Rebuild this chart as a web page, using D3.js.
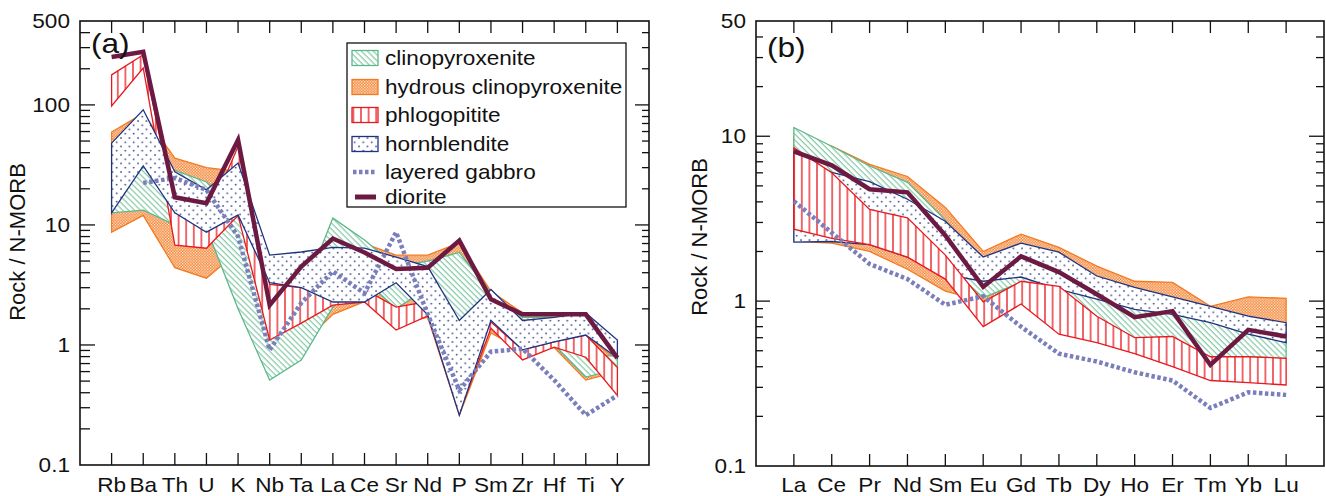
<!DOCTYPE html>
<html>
<head>
<meta charset="utf-8">
<script src="https://cdn.jsdelivr.net/npm/d3@7"></script>
<style>
  body { margin: 0; background: #fff; }
  text { font-family: "Liberation Sans", Arial, Helvetica, sans-serif; fill: #111; }
</style>
</head>
<body>
<svg id="chart" width="1326" height="496"></svg>
<script>
// ---- data (N-MORB normalised) ----
const elementsA = ['Rb','Ba','Th','U','K','Nb','Ta','La','Ce','Sr','Nd','P','Sm','Zr','Hf','Ti','Y'];
const elementsB = ['La','Ce','Pr','Nd','Sm','Eu','Gd','Tb','Dy','Ho','Er','Tm','Yb','Lu'];

const yTicksA = [0.1, 1, 10, 100, 500];
const yTicksB = [0.1, 1, 10, 50];

const legendNames = ['clinopyroxenite', 'hydrous clinopyroxenite', 'phlogopitite', 'hornblendite', 'layered gabbro', 'diorite'];

// panel (a) envelopes: upper / lower bounds
const cpxHiA = [18.5, 30, 28.5, 22.8, 12, 2.0, 2.5, 11.4, 7.5, 4.5, 5.0, 5.9, 2.7, 1.7, 1.7, 0.85, 0.8];
const cpxLoA = [12.6, 13.3, 10, 9.4, 2.0, 0.51, 0.75, 2.07, 3.5, 2.0, 3.0, 1.6, 1.5, 0.9, 1.0, 0.54, 0.63];
const hydHiA = [59.5, 85, 36, 30, 28, 3.0, 4.5, 8.0, 7.0, 5.6, 5.6, 7.1, 2.8, 1.85, 1.8, 1.2, 0.75];
const hydLoA = [8.7, 12, 4.4, 3.6, 6, 1.1, 1.0, 1.8, 2.3, 1.5, 1.7, 0.26, 1.26, 0.9, 0.95, 0.51, 0.6];
const phlHiA = [178, 262, 12.6, 11, 45, 3.2, 3.0, 2.9, 2.9, 2.07, 2.3, 0.6, 1.55, 0.91, 1.06, 1.21, 0.65];
const phlLoA = [98, 203, 6.8, 6.4, 12, 1.1, 1.52, 2.15, 2.28, 1.33, 1.75, 0.27, 1.38, 0.75, 0.96, 0.79, 0.38];
const hblHiA = [48, 91, 27.7, 19.6, 32.8, 5.6, 5.95, 6.5, 6.4, 5.4, 4.5, 1.6, 2.9, 1.6, 1.7, 1.85, 1.1];
const hblLoA = [12.6, 31, 12.6, 8.7, 12.1, 3.3, 3.0, 2.28, 2.28, 3.3, 1.78, 0.26, 1.6, 0.91, 1.06, 1.21, 0.78];
const gabbroA = [null, 22.4, 24.6, 19.6, 8, 0.91, 2.24, 4.1, 2.7, 8.7, 1.8, 0.42, 0.88, 0.93, 0.51, 0.26, 0.38];
const dioriteA = [251, 277, 17, 15.2, 51, 2.15, 4.5, 7.7, 5.9, 4.3, 4.4, 7.4, 2.4, 1.8, 1.8, 1.8, 0.78];

// panel (b) envelopes
const cpxHiB = [11.3, 8.7, 6.6, 5.25, 3.1, 1.5, 1.45, 1.3, 1.1, 0.95, 0.88, 0.75, 0.63, 0.57];
const cpxLoB = [3.14, 3.0, 2.7, 2.3, 1.7, 1.05, 1.3, 1.2, 0.8, 0.6, 0.6, 0.46, 0.46, 0.45];
const hydHiB = [10, 8.7, 6.75, 5.7, 3.7, 2.0, 2.55, 2.12, 1.63, 1.32, 1.3, 0.93, 1.06, 1.04];
const hydLoB = [2.3, 2.25, 2.0, 1.56, 1.15, 1.0, 1.2, 1.1, 0.9, 0.8, 0.75, 0.7, 0.7, 0.6];
const phlHiB = [8.5, 6.0, 3.6, 3.2, 1.9, 0.99, 1.32, 1.23, 0.81, 0.6, 0.61, 0.46, 0.46, 0.45];
const phlLoB = [2.73, 2.4, 2.2, 1.85, 1.36, 0.70, 0.96, 0.63, 0.56, 0.48, 0.40, 0.33, 0.32, 0.31];
const hblHiB = [8.0, 6.04, 5.3, 4.15, 3.05, 1.85, 2.25, 1.98, 1.42, 1.21, 1.06, 0.93, 0.81, 0.74];
const hblLoB = [2.28, 2.3, 2.2, 1.85, 1.45, 1.32, 1.4, 1.18, 1.03, 0.89, 0.83, 0.74, 0.63, 0.56];
const gabbroB = [4.04, 2.6, 1.68, 1.36, 0.95, 1.07, 0.70, 0.48, 0.43, 0.37, 0.33, 0.225, 0.28, 0.27];
const dioriteB = [8.1, 6.66, 4.77, 4.57, 2.5, 1.22, 1.87, 1.5, 1.1, 0.8, 0.87, 0.41, 0.67, 0.61];

// ---- styles ----
const col = {
  cpx: '#5cb88a', hyd: '#f37a22', phl: '#e8191e', hbl: '#1f3380',
  gabbro: '#7a7fbb', diorite: '#6d1a42'
};

const svg = d3.select('#chart');
const defs = svg.append('defs');

// green diagonal hatch
const pCpx = defs.append('pattern').attr('id', 'pCpx')
  .attr('patternUnits', 'userSpaceOnUse').attr('width', 4.2).attr('height', 4.2)
  .attr('patternTransform', 'rotate(-45)');
pCpx.append('rect').attr('width', 4.2).attr('height', 4.2).attr('fill', '#fff');
pCpx.append('line').attr('x1', 1).attr('x2', 1).attr('y1', 0).attr('y2', 4.2)
  .attr('stroke', col.cpx).attr('stroke-width', 0.9);

// orange fine checker
const pHyd = defs.append('pattern').attr('id', 'pHyd')
  .attr('patternUnits', 'userSpaceOnUse').attr('width', 2.8).attr('height', 2.8);
pHyd.append('rect').attr('width', 2.8).attr('height', 2.8).attr('fill', col.hyd);
pHyd.append('rect').attr('x', 0).attr('y', 0).attr('width', 1.25).attr('height', 1.25).attr('fill', '#fff');
pHyd.append('rect').attr('x', 1.4).attr('y', 1.4).attr('width', 1.25).attr('height', 1.25).attr('fill', '#fff');

// red vertical lines
const pPhl = defs.append('pattern').attr('id', 'pPhl')
  .attr('patternUnits', 'userSpaceOnUse').attr('width', 7.6).attr('height', 10);
pPhl.append('rect').attr('width', 7.6).attr('height', 10).attr('fill', '#fff');
pPhl.append('line').attr('x1', 3.8).attr('x2', 3.8).attr('y1', 0).attr('y2', 10)
  .attr('stroke', col.phl).attr('stroke-width', 1.3);

// blue dots
const pHbl = defs.append('pattern').attr('id', 'pHbl')
  .attr('patternUnits', 'userSpaceOnUse').attr('width', 8.5).attr('height', 8.5);
pHbl.append('rect').attr('width', 8.5).attr('height', 8.5).attr('fill', '#fff');
pHbl.append('circle').attr('cx', 2).attr('cy', 2).attr('r', 0.9).attr('fill', col.hbl);
pHbl.append('circle').attr('cx', 6.25).attr('cy', 6.25).attr('r', 0.9).attr('fill', col.hbl);

const fieldStyle = {
  cpx: { fill: 'url(#pCpx)', stroke: col.cpx },
  hyd: { fill: 'url(#pHyd)', stroke: col.hyd },
  phl: { fill: 'url(#pPhl)', stroke: col.phl },
  hbl: { fill: 'url(#pHbl)', stroke: col.hbl }
};

const panels = [
  {
    label: '(a)', x0: 80, x1: 649, y0: 21, y1: 465,
    elements: elementsA, domain: [0.1, 500], yTicks: yTicksA,
    labelX: 91, labelY: 53, titleX: 25, titleY: 242,
    fields: [
      ['hyd', hydHiA, hydLoA], ['cpx', cpxHiA, cpxLoA],
      ['phl', phlHiA, phlLoA], ['hbl', hblHiA, hblLoA]
    ],
    gabbro: gabbroA, diorite: dioriteA,
    leftMajor: 15, leftMinor: 10, rightMajor: 14, rightMinor: 7
  },
  {
    label: '(b)', x0: 756, x1: 1324, y0: 21, y1: 466,
    elements: elementsB, domain: [0.1, 50], yTicks: yTicksB,
    labelX: 767, labelY: 57, titleX: 707, titleY: 237,
    fields: [
      ['hyd', hydHiB, hydLoB], ['cpx', cpxHiB, cpxLoB],
      ['hbl', hblHiB, hblLoB], ['phl', phlHiB, phlLoB]
    ],
    gabbro: gabbroB, diorite: dioriteB,
    leftMajor: 14, leftMinor: 7, rightMajor: 15, rightMinor: 8
  }
];

const SX = 1.13; // the figure's lettering is a little wide
function wideText(g, x, y, str, size, anchor) {
  return g.append('text')
    .attr('transform', `translate(${x},${y}) scale(${SX},1)`)
    .attr('text-anchor', anchor || 'start')
    .attr('font-size', size)
    .text(str);
}

panels.forEach(function (p) {
  const g = svg.append('g');
  const x = d3.scalePoint().domain(p.elements).range([p.x0, p.x1]).padding(1);
  const y = d3.scaleLog().domain(p.domain).range([p.y1, p.y0]);

  // envelopes
  p.fields.forEach(function (f) {
    const key = f[0], hi = f[1], lo = f[2];
    const rows = p.elements.map((e, i) => ({ e: e, hi: hi[i], lo: lo[i] }));
    const area = d3.area()
      .x(d => x(d.e))
      .y0(d => y(d.lo))
      .y1(d => y(d.hi));
    g.append('path')
      .attr('d', area(rows))
      .attr('fill', fieldStyle[key].fill)
      .attr('stroke', fieldStyle[key].stroke)
      .attr('stroke-width', 1.3)
      .attr('stroke-linejoin', 'miter');
  });

  const line = d3.line()
    .defined(d => d.v != null)
    .x(d => x(d.e))
    .y(d => y(d.v));

  g.append('path')
    .attr('d', line(p.elements.map((e, i) => ({ e: e, v: p.gabbro[i] }))))
    .attr('fill', 'none')
    .attr('stroke', col.gabbro)
    .attr('stroke-width', 4.5)
    .attr('stroke-dasharray', '3.5 2.5');

  g.append('path')
    .attr('d', line(p.elements.map((e, i) => ({ e: e, v: p.diorite[i] }))))
    .attr('fill', 'none')
    .attr('stroke', col.diorite)
    .attr('stroke-width', 4.5)
    .attr('stroke-linejoin', 'miter');

  // frame
  g.append('rect')
    .attr('x', p.x0).attr('y', p.y0)
    .attr('width', p.x1 - p.x0).attr('height', p.y1 - p.y0)
    .attr('fill', 'none').attr('stroke', '#111').attr('stroke-width', 1.6);

  // x ticks, inward top and bottom
  p.elements.forEach(function (e) {
    g.append('line').attr('x1', x(e)).attr('x2', x(e))
      .attr('y1', p.y0).attr('y2', p.y0 + 12).attr('stroke', '#111').attr('stroke-width', 1.3);
    g.append('line').attr('x1', x(e)).attr('x2', x(e))
      .attr('y1', p.y1).attr('y2', p.y1 - 12).attr('stroke', '#111').attr('stroke-width', 1.3);
    wideText(g, x(e), 492, e, 20, 'middle');
  });

  // y ticks (log), inward both sides
  y.ticks().forEach(function (v) {
    const lg = Math.log10(v);
    const major = Math.abs(lg - Math.round(lg)) < 1e-9;
    const yy = y(v);
    if (yy <= p.y0 + 0.5 || yy >= p.y1 - 0.5) return;
    g.append('line').attr('x1', p.x0).attr('x2', p.x0 + (major ? p.leftMajor : p.leftMinor))
      .attr('y1', yy).attr('y2', yy).attr('stroke', '#111').attr('stroke-width', 1.3);
    g.append('line').attr('x1', p.x1).attr('x2', p.x1 - (major ? p.rightMajor : p.rightMinor))
      .attr('y1', yy).attr('y2', yy).attr('stroke', '#111').attr('stroke-width', 1.3);
  });
  p.yTicks.forEach(function (v) {
    wideText(g, p.x0 - 10, y(v) + 7, String(v), 20, 'end');
  });

  // axis title and panel letter
  g.append('text')
    .attr('transform', `translate(${p.titleX},${p.titleY}) rotate(-90)`)
    .attr('text-anchor', 'middle')
    .attr('font-size', 22)
    .text('Rock / N-MORB');
  wideText(g, p.labelX, p.labelY, p.label, 28, 'start');
});

// legend (inside panel a)
const lg = svg.append('g');
lg.append('rect').attr('x', 347).attr('y', 43).attr('width', 279).attr('height', 164)
  .attr('fill', '#fff').attr('stroke', '#111').attr('stroke-width', 1.3);
const legendKeys = ['cpx', 'hyd', 'phl', 'hbl', 'gabbro', 'diorite'];
const rowY = [58, 87, 115, 144, 172, 197];
legendKeys.forEach(function (k, i) {
  const cy = rowY[i];
  if (fieldStyle[k]) {
    lg.append('rect').attr('x', 352).attr('y', cy - 7.5).attr('width', 26).attr('height', 15)
      .attr('fill', fieldStyle[k].fill).attr('stroke', fieldStyle[k].stroke).attr('stroke-width', 1.3);
  } else if (k === 'gabbro') {
    lg.append('line').attr('x1', 353).attr('x2', 376).attr('y1', cy).attr('y2', cy)
      .attr('stroke', col.gabbro).attr('stroke-width', 4.5).attr('stroke-dasharray', '3.5 2.5');
  } else {
    lg.append('line').attr('x1', 355).attr('x2', 376).attr('y1', cy).attr('y2', cy)
      .attr('stroke', col.diorite).attr('stroke-width', 5);
  }
  wideText(lg, 385, cy + 6.8, legendNames[i], 20, 'start');
});
</script>
</body>
</html>
